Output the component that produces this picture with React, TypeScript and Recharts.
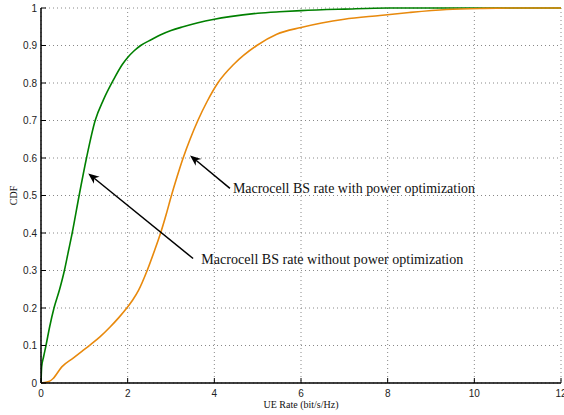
import React from 'react';
import { LineChart, Line, XAxis, YAxis, CartesianGrid, ReferenceLine, ReferenceDot } from 'recharts';

// CDF without power optimization (green)
const withoutRate = [0, 0.015, 0.06, 0.115, 0.2, 0.3, 0.43, 0.54, 0.63, 0.72, 0.88, 1.05, 1.25, 1.44, 1.67, 1.88, 2.0, 2.15, 2.3, 2.55, 2.75, 3.0, 3.28, 3.6, 4.0, 4.36, 5.0, 5.5, 6.0, 7.0, 8.0, 12];
const withoutCdf = [0, 0.043, 0.07, 0.1, 0.15, 0.2, 0.25, 0.3, 0.35, 0.4, 0.5, 0.6, 0.7, 0.755, 0.808, 0.85, 0.868, 0.886, 0.9, 0.916, 0.928, 0.94, 0.95, 0.96, 0.97, 0.977, 0.986, 0.99, 0.993, 0.997, 1, 1];

// CDF with power optimization (orange)
const withRate = [0, 0.2, 0.28, 0.48, 0.75, 0.95, 1.15, 1.36, 1.6, 1.8, 1.98, 2.12, 2.25, 2.45, 2.61, 2.76, 2.89, 3.01, 3.14, 3.28, 3.44, 3.62, 3.83, 4.08, 4.45, 4.98, 5.44, 6.0, 7.0, 7.82, 8.5, 9.36, 10.2, 11, 12];
const withCdf = [0, 0.005, 0.012, 0.043, 0.067, 0.085, 0.103, 0.123, 0.15, 0.175, 0.2, 0.222, 0.247, 0.3, 0.35, 0.4, 0.45, 0.5, 0.55, 0.6, 0.65, 0.7, 0.75, 0.8, 0.85, 0.9, 0.93, 0.948, 0.97, 0.98, 0.988, 0.996, 0.999, 1, 1];

const xTicks = [0, 2, 4, 6, 8, 10, 12];
const yTicks = [0, 0.1, 0.2, 0.3, 0.4, 0.5, 0.6, 0.7, 0.8, 0.9, 1];

const withLabel = 'Macrocell BS rate with power optimization';
const withoutLabel = 'Macrocell BS rate without power optimization';

const greenData = withoutRate.map((x, i) => ({ x, y: withoutCdf[i] }));
const orangeData = withRate.map((x, i) => ({ x, y: withCdf[i] }));

const TICK = 5;
const tickFont = { fontFamily: '"Liberation Sans", Arial, sans-serif', fontSize: 10, fill: '#222' };
const serif = '"Liberation Serif", "Times New Roman", serif';

const fmt = (v: number) => String(Math.round(v * 10) / 10);

const BottomTick = ({ x, y, payload }: any) => (
  <g>
    <line x1={x} x2={x} y1={y} y2={y - TICK} stroke="#000" />
    <text x={x} y={y + 14} textAnchor="middle" {...tickFont}>{fmt(payload.value)}</text>
  </g>
);
const TopTick = ({ x, y }: any) => <line x1={x} x2={x} y1={y} y2={y + TICK} stroke="#000" />;
const LeftTick = ({ x, y, payload }: any) => (
  <g>
    <line x1={x} x2={x + TICK} y1={y} y2={y} stroke="#000" />
    <text x={x - 4} y={y + 3.5} textAnchor="end" {...tickFont}>{fmt(payload.value)}</text>
  </g>
);
const RightTick = ({ x, y }: any) => <line x1={x} x2={x - TICK} y1={y} y2={y} stroke="#000" />;

const Arrow = (props: any) => {
  const { x1, y1, x2, y2 } = props;
  const dx = x2 - x1;
  const dy = y2 - y1;
  const len = Math.sqrt(dx * dx + dy * dy) || 1;
  const ux = dx / len;
  const uy = dy / len;
  const hl = 11;
  const hw = 4.5;
  const bx = x2 - ux * hl;
  const by = y2 - uy * hl;
  const nx = x2 - ux * hl * 0.7;
  const ny = y2 - uy * hl * 0.7;
  const pts = `${x2},${y2} ${bx - uy * hw},${by + ux * hw} ${nx},${ny} ${bx + uy * hw},${by - ux * hw}`;
  return (
    <g>
      <line x1={x1} y1={y1} x2={nx} y2={ny} stroke="#000" strokeWidth={1.5} />
      <polygon points={pts} fill="#000" />
    </g>
  );
};

const makeText = (text: string, width: number) => (props: any) => (
  <text x={props.cx} y={props.cy} fontFamily={serif} fontSize={14} fill="#111"
    textLength={width} lengthAdjust="spacingAndGlyphs">{text}</text>
);

export default function App() {
  return (
    <div style={{ position: 'absolute', left: 0, top: 0, width: 564, height: 415, background: '#fff' }}>
      <LineChart width={564} height={415} margin={{ top: 8, right: 3, bottom: 0, left: 0 }}>
        <CartesianGrid stroke="#888" strokeDasharray="1 3" />
        <XAxis dataKey="x" type="number" domain={[0, 12]} ticks={xTicks} height={32}
          axisLine={{ stroke: '#000', strokeWidth: 1.5 }} tickLine={false} tickSize={0} tickMargin={0}
          tick={<BottomTick />} interval={0} allowDataOverflow
          label={{ value: 'UE Rate (bit/s/Hz)', position: 'insideBottom', offset: 7, style: { fontFamily: serif, fontSize: 10, fill: '#111' } }} />
        <XAxis xAxisId="top" orientation="top" type="number" domain={[0, 12]} ticks={xTicks} height={0}
          axisLine={{ stroke: '#000' }} tickLine={false} tickSize={0} tickMargin={0} tick={<TopTick />} interval={0} />
        <YAxis type="number" domain={[0, 1]} ticks={yTicks} width={41}
          axisLine={{ stroke: '#000', strokeWidth: 1.5 }} tickLine={false} tickSize={0} tickMargin={0}
          tick={<LeftTick />} interval={0}
          label={{ value: 'CDF', angle: -90, position: 'insideLeft', offset: 13, style: { fontFamily: serif, fontSize: 10, fill: '#111', textAnchor: 'middle' } }} />
        <YAxis yAxisId="right" orientation="right" type="number" domain={[0, 1]} ticks={yTicks} width={0}
          axisLine={{ stroke: '#000' }} tickLine={false} tickSize={0} tickMargin={0} tick={<RightTick />} interval={0} />
        <Line data={greenData} dataKey="y" type="monotone" stroke="#008000" strokeWidth={1.6} dot={false} isAnimationActive={false} />
        <Line data={orangeData} dataKey="y" type="monotone" stroke="#e8890c" strokeWidth={1.6} dot={false} isAnimationActive={false} />
        <ReferenceLine segment={[{ x: 4.36, y: 0.519 }, { x: 3.44, y: 0.607 }]} shape={Arrow} ifOverflow="visible" />
        <ReferenceLine segment={[{ x: 3.51, y: 0.332 }, { x: 1.09, y: 0.559 }]} shape={Arrow} ifOverflow="visible" />
        <ReferenceDot x={4.43} y={0.506} r={0} shape={makeText(withLabel, 242)} ifOverflow="visible" />
        <ReferenceDot x={3.7} y={0.317} r={0} shape={makeText(withoutLabel, 262)} ifOverflow="visible" />
      </LineChart>
    </div>
  );
}
